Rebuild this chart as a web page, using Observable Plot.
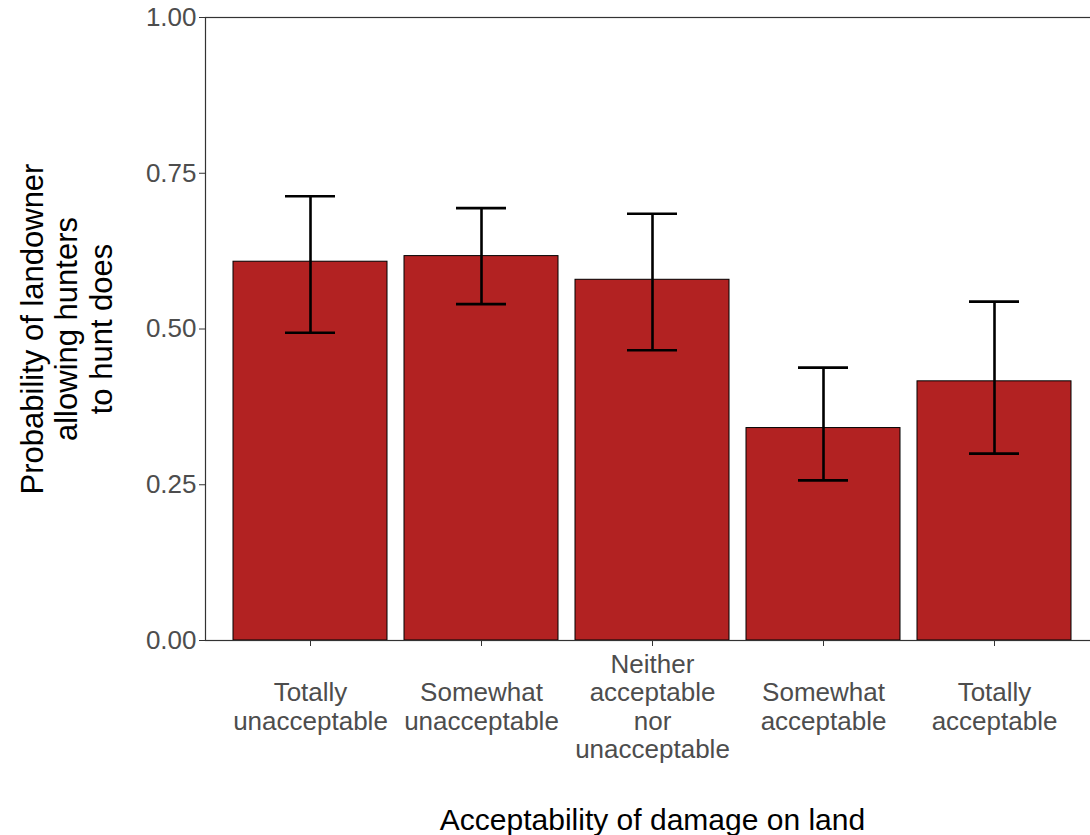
<!DOCTYPE html>
<html>
<head>
<meta charset="utf-8">
<script src="https://cdn.jsdelivr.net/npm/d3@7"></script>
<script src="https://cdn.jsdelivr.net/npm/@observablehq/plot@0.6"></script>
<style>
  html, body { margin: 0; padding: 0; background: #fff; overflow: hidden; }
  #chart { width: 1090px; height: 835px; }
</style>
</head>
<body>
<div id="chart"></div>
<script>
// ---- Data ----
const categories = ["Totally unacceptable", "Somewhat unacceptable", "Neither acceptable nor unacceptable", "Somewhat acceptable", "Totally acceptable"];
const tickLabels = ["Totally\nunacceptable", "Somewhat\nunacceptable", "Neither\nacceptable\nnor\nunacceptable", "Somewhat\nacceptable", "Totally\nacceptable"];
const probability = [0.608, 0.617, 0.579, 0.341, 0.416];
const upperCI = [0.713, 0.694, 0.685, 0.438, 0.544];
const lowerCI = [0.494, 0.540, 0.466, 0.257, 0.300];
const yTicks = [0, 0.25, 0.5, 0.75, 1];
const xTitle = "Acceptability of damage on land";
const yTitle = "Probability of landowner\nallowing hunters\nto hunt does";

const data = categories.map((c, i) => ({cat: c, label: tickLabels[i], p: probability[i], lo: lowerCI[i], hi: upperCI[i]}));

const chart = Plot.plot({
  width: 1090,
  height: 835,
  marginTop: 17,
  marginBottom: 195,
  marginLeft: 205,
  marginRight: -9,
  style: {fontFamily: "'Liberation Sans', Arial, sans-serif", background: "white", overflow: "visible"},
  x: {domain: categories, paddingInner: 0.1, paddingOuter: 0.15, label: null},
  y: {domain: [0, 1], label: null},
  marks: [
    Plot.barY(data, {x: "cat", y: "p", fill: "#B22222", stroke: "black", strokeWidth: 1}),
    Plot.ruleX(data, {x: "cat", y1: "lo", y2: "hi", stroke: "black", strokeWidth: 2.6}),
    Plot.tickY(data, {x: "cat", y: "hi", insetLeft: 52, insetRight: 52, stroke: "black", strokeWidth: 2.6}),
    Plot.tickY(data, {x: "cat", y: "lo", insetLeft: 52, insetRight: 52, stroke: "black", strokeWidth: 2.6}),
    Plot.frame({stroke: "#333", strokeWidth: 1.2}),
    Plot.axisY({ticks: yTicks, tickFormat: d3.format(".2f"), tickSize: 6, tickPadding: 3, stroke: "#333", fill: "#4D4D4D", fontSize: 26, label: null}),
    Plot.axisX({tickSize: 6, tickFormat: () => "", stroke: "#333", label: null}),
    Plot.text(data, {x: "cat", text: "label", frameAnchor: "bottom", dy: 66, lineAnchor: "middle", lineHeight: 1.08, fontSize: 26, fill: "#4D4D4D"}),
    Plot.text([xTitle], {text: d => d, frameAnchor: "bottom", dy: 180, lineAnchor: "middle", textAnchor: "middle", fontSize: 30, fill: "black"}),
    Plot.text([yTitle], {text: d => d, frameAnchor: "left", dx: -139, rotate: -90, textAnchor: "middle", lineAnchor: "middle", lineHeight: 1.1, fontSize: 31, fill: "black"})
  ]
});
document.getElementById("chart").appendChild(chart);
</script>
</body>
</html>
